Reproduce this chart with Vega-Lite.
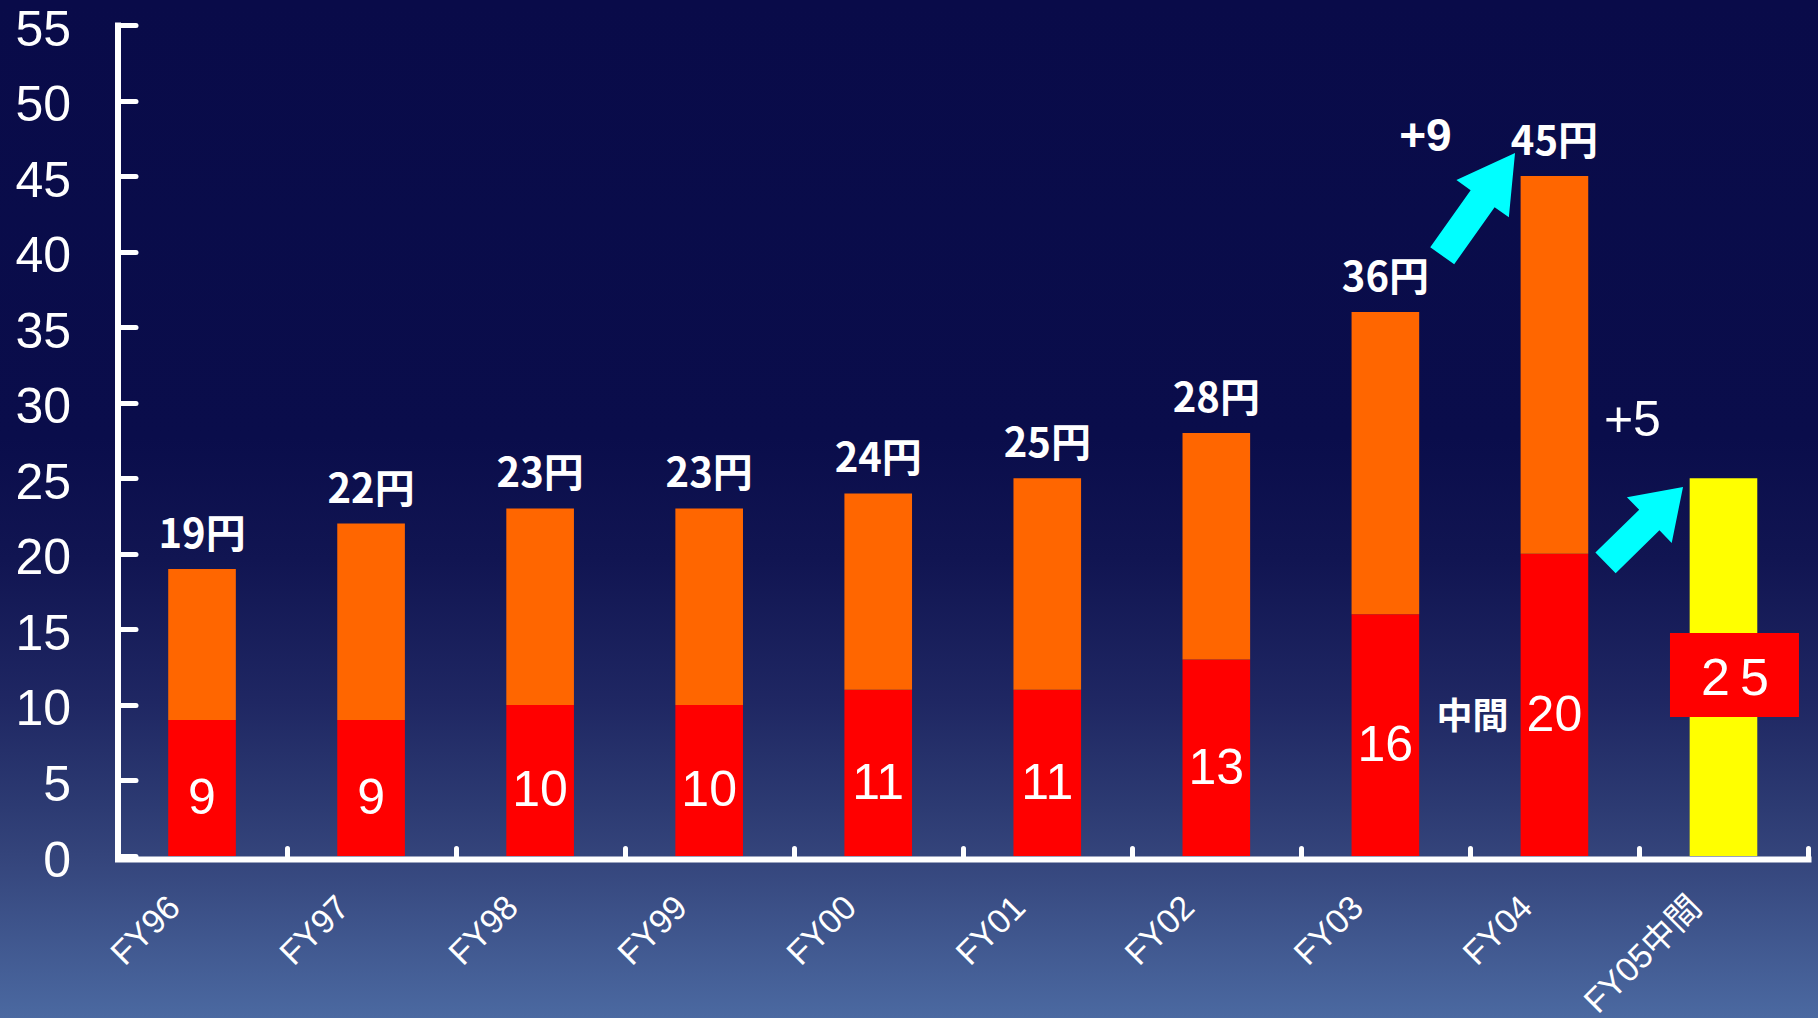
{
  "$schema": "https://vega.github.io/schema/vega-lite/v6.json",
  "width": 1818,
  "height": 1018,
  "autosize": {"type": "none"},
  "padding": 0,
  "background": "#0A0C4A",
  "config": {
    "view": {
      "stroke": null,
      "fill": {
        "gradient": "linear", "x1": 0, "y1": 0, "x2": 0, "y2": 1,
        "stops": [
          {"offset": 0, "color": "#090B49"},
          {"offset": 0.43, "color": "#0A0D4B"},
          {"offset": 0.55, "color": "#111552"},
          {"offset": 0.69, "color": "#1F2763"},
          {"offset": 0.79, "color": "#2C3A72"},
          {"offset": 0.84, "color": "#34447B"},
          {"offset": 1, "color": "#4B69A1"}
        ]
      }
    },
    "axis": {"grid": false, "title": null}
  },
  "datasets": {
    "dividends": [
      {"fy": "FY96", "part": "interim", "value": 9},
      {"fy": "FY96", "part": "final", "value": 10},
      {"fy": "FY97", "part": "interim", "value": 9},
      {"fy": "FY97", "part": "final", "value": 13},
      {"fy": "FY98", "part": "interim", "value": 10},
      {"fy": "FY98", "part": "final", "value": 13},
      {"fy": "FY99", "part": "interim", "value": 10},
      {"fy": "FY99", "part": "final", "value": 13},
      {"fy": "FY00", "part": "interim", "value": 11},
      {"fy": "FY00", "part": "final", "value": 13},
      {"fy": "FY01", "part": "interim", "value": 11},
      {"fy": "FY01", "part": "final", "value": 14},
      {"fy": "FY02", "part": "interim", "value": 13},
      {"fy": "FY02", "part": "final", "value": 15},
      {"fy": "FY03", "part": "interim", "value": 16},
      {"fy": "FY03", "part": "final", "value": 20},
      {"fy": "FY04", "part": "interim", "value": 20},
      {"fy": "FY04", "part": "final", "value": 25},
      {"fy": "FY05中間", "part": "fy05", "value": 25}
    ],
    "totals": [
      {"fy": "FY96", "total": 19, "label": "19円"},
      {"fy": "FY97", "total": 22, "label": "22円"},
      {"fy": "FY98", "total": 23, "label": "23円"},
      {"fy": "FY99", "total": 23, "label": "23円"},
      {"fy": "FY00", "total": 24, "label": "24円"},
      {"fy": "FY01", "total": 25, "label": "25円"},
      {"fy": "FY02", "total": 28, "label": "28円"},
      {"fy": "FY03", "total": 36, "label": "36円"},
      {"fy": "FY04", "total": 45, "label": "45円"}
    ]
  },
  "layer": [
    {
      "data": {"name": "dividends"},
      "mark": {"type": "bar"},
      "encoding": {
        "x": {
          "field": "fy", "type": "nominal",
          "scale": {
            "domain": ["FY96", "FY97", "FY98", "FY99", "FY00", "FY01", "FY02", "FY03", "FY04", "FY05中間"],
            "range": [117.5, 1808], "paddingInner": 0.6, "paddingOuter": 0.3
          },
          "axis": {
            "orient": "bottom", "offset": -159, "title": null,
            "labelAngle": -45, "labelAlign": "right", "labelBaseline": "middle",
            "labelFont": "Liberation Sans, Noto Sans CJK JP", "labelFontSize": 34, "labelColor": "white",
            "labelPadding": 54, "labelOffset": -112,
            "tickOffset": 84.5, "tickSize": -11, "tickWidth": 5, "tickCap": "round", "tickColor": "white",
            "domainWidth": 6, "domainColor": "white", "domainCap": "square", "zindex": 1
          }
        },
        "y": {
          "field": "value", "type": "quantitative", "stack": "zero",
          "scale": {"domain": [0, 55], "range": [856, 25], "nice": false},
          "axis": {
            "values": [0, 5, 10, 15, 20, 25, 30, 35, 40, 45, 50, 55],
            "offset": -117.5, "title": null,
            "labelFont": "Liberation Sans", "labelFontSize": 50, "labelColor": "white",
            "labelPadding": 65, "labelOffset": 5,
            "tickSize": -18, "tickWidth": 5, "tickCap": "round", "tickColor": "white",
            "domainWidth": 6, "domainColor": "white", "domainCap": "square", "zindex": 1
          }
        },
        "color": {
          "field": "part", "type": "nominal",
          "scale": {"domain": ["interim", "final", "fy05"], "range": ["#FF0000", "#FF6600", "#FFFF00"]},
          "legend": null
        },
        "order": {"field": "part", "sort": "descending"}
      }
    },
    {
      "data": {"name": "dividends"},
      "transform": [{"filter": "datum.part === 'interim'"}],
      "mark": {"type": "text", "font": "Liberation Sans", "fontSize": 50, "color": "white", "baseline": "middle", "dy": 11},
      "encoding": {
        "x": {"field": "fy", "type": "nominal"},
        "y": {"field": "value", "type": "quantitative", "stack": "zero", "bandPosition": 0.5},
        "detail": {"field": "part"},
        "text": {"field": "value"}
      }
    },
    {
      "data": {"name": "totals"},
      "mark": {"type": "text", "font": "Noto Sans CJK JP", "fontWeight": "bold", "fontSize": 40, "color": "white", "baseline": "alphabetic", "dy": -21},
      "encoding": {
        "x": {"field": "fy", "type": "nominal"},
        "y": {"field": "total", "type": "quantitative"},
        "text": {"field": "label"}
      }
    },
    {
      "data": {"values": [{}]},
      "mark": {"type": "bar", "color": "#FF0000", "width": 129, "xOffset": 11},
      "encoding": {
        "x": {"datum": "FY05中間", "type": "nominal"},
        "y": {"datum": 14.76, "type": "quantitative"},
        "y2": {"datum": 9.2}
      }
    },
    {
      "data": {"values": [{}]},
      "mark": {"type": "text", "text": "2", "font": "Liberation Sans", "fontSize": 52, "color": "white", "baseline": "middle", "dx": -8},
      "encoding": {
        "x": {"datum": "FY05中間", "type": "nominal"},
        "y": {"datum": 11.71, "type": "quantitative"}
      }
    },
    {
      "data": {"values": [{}]},
      "mark": {"type": "text", "text": "5", "font": "Liberation Sans", "fontSize": 52, "color": "white", "baseline": "middle", "dx": 31},
      "encoding": {
        "x": {"datum": "FY05中間", "type": "nominal"},
        "y": {"datum": 11.71, "type": "quantitative"}
      }
    },
    {
      "data": {"values": [{}]},
      "mark": {"type": "text", "text": "中間", "font": "Noto Sans CJK JP", "fontWeight": "bold", "fontSize": 36, "color": "white", "baseline": "middle", "dx": -82},
      "encoding": {
        "x": {"datum": "FY04", "type": "nominal"},
        "y": {"datum": 9.13, "type": "quantitative"}
      }
    },
    {
      "data": {"values": [{}]},
      "mark": {"type": "text", "text": "+9", "font": "Liberation Sans", "fontWeight": "bold", "fontSize": 46, "color": "white", "baseline": "middle", "dx": 40},
      "encoding": {
        "x": {"datum": "FY03", "type": "nominal"},
        "y": {"datum": 47.62, "type": "quantitative"}
      }
    },
    {
      "data": {"values": [{}]},
      "mark": {"type": "text", "text": "+5", "font": "Liberation Sans", "fontSize": 50, "color": "white", "baseline": "middle", "dx": 78},
      "encoding": {
        "x": {"datum": "FY04", "type": "nominal"},
        "y": {"datum": 28.8, "type": "quantitative"}
      }
    },
    {
      "data": {"values": [{}]},
      "mark": {
        "type": "point", "filled": true, "opacity": 1, "fill": "#00FFFF", "strokeWidth": 0,
        "shape": "M0,-1L0.51,-0.11L0.233,-0.11L0.233,1L-0.233,1L-0.233,-0.11L-0.51,-0.11Z",
        "size": 15876, "angle": 35.3, "xOffset": -75.8
      },
      "encoding": {
        "x": {"datum": "FY04", "type": "nominal"},
        "y": {"datum": 43.13, "type": "quantitative"}
      }
    },
    {
      "data": {"values": [{}]},
      "mark": {
        "type": "point", "filled": true, "opacity": 1, "fill": "#00FFFF", "strokeWidth": 0,
        "shape": "M0,-1L0.59,-0.13L0.267,-0.13L0.267,1L-0.267,1L-0.267,-0.13L-0.59,-0.13Z",
        "size": 11772, "angle": 45.6, "xOffset": -79.2
      },
      "encoding": {
        "x": {"datum": "FY05中間", "type": "nominal"},
        "y": {"datum": 21.91, "type": "quantitative"}
      }
    }
  ]
}
